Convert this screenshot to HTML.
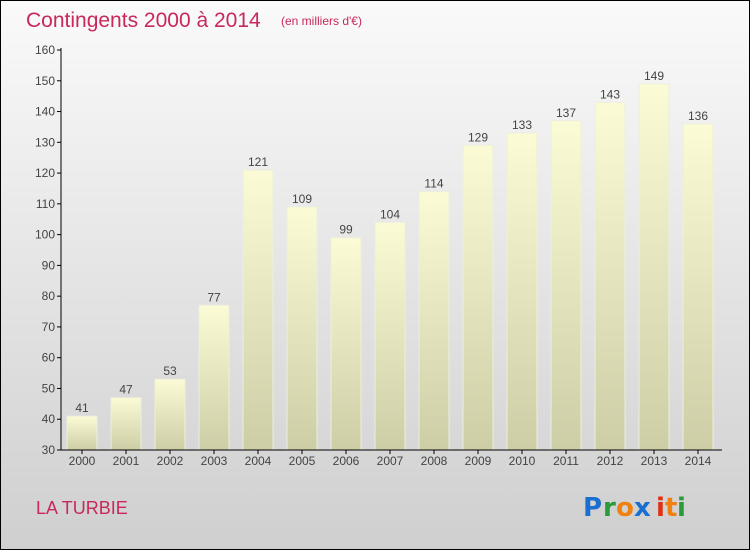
<!DOCTYPE html>
<html><head><meta charset="utf-8"><style>
html,body{margin:0;padding:0}
body{width:750px;height:550px;overflow:hidden;font-family:"Liberation Sans",sans-serif}
</style></head><body>
<svg width="750" height="550" xmlns="http://www.w3.org/2000/svg">
<defs>
<linearGradient id="bg" x1="0" y1="0" x2="0" y2="1"><stop offset="0" stop-color="#fafafa"/><stop offset="1" stop-color="#cfcfcf"/></linearGradient>
<linearGradient id="bar" x1="0" y1="0" x2="0" y2="1"><stop offset="0" stop-color="#fbfbd6"/><stop offset="1" stop-color="#cdcda6"/></linearGradient>
</defs>
<rect x="0.5" y="0.5" width="749" height="549" fill="url(#bg)" stroke="#000"/>
<text x="26" y="27" font-size="21" fill="#c8285a">Contingents 2000 à 2014</text>
<text x="281" y="25" font-size="12" fill="#c8285a">(en milliers d'€)</text>
<g id="plot"></g>
<text x="36" y="514" font-size="18" fill="#c8285a">LA TURBIE</text>
<g font-size="26" font-family="'DejaVu Sans',sans-serif" font-weight="bold">
<text x="583" y="516" fill="#1a6fd0">P</text><text x="603" y="516" fill="#2a9a3a">r</text><text x="616" y="516" fill="#f08010">o</text><text x="634" y="516" fill="#1a6fd0">x</text><text x="656" y="516" fill="#e03010">i</text><text x="665" y="516" fill="#f08010">t</text><text x="677" y="516" fill="#2a9a3a">i</text>
</g>
</svg>
<script>
const categories=["2000","2001","2002","2003","2004","2005","2006","2007","2008","2009","2010","2011","2012","2013","2014"];
const values=[41,47,53,77,121,109,99,104,114,129,133,137,143,149,136];
const yTicks=[30,40,50,60,70,80,90,100,110,120,130,140,150,160];
const NS="http://www.w3.org/2000/svg";
const g=document.getElementById('plot');
const y0=450,y1=50,vmin=30,vmax=160;
function yS(v){return y0-(v-vmin)/(vmax-vmin)*(y0-y1);}
function xS(i){return 82+i*44;}
function mk(t,a,p){const e=document.createElementNS(NS,t);for(const k in a)e.setAttribute(k,a[k]);(p||g).appendChild(e);return e;}
yTicks.forEach(v=>{
 const y=yS(v);
 const tk=mk('line',{x1:57,x2:61,y1:y,y2:y,stroke:'#000'});
 
 
 const t=mk('text',{x:55,y:y+4,'text-anchor':'end','font-size':12,fill:'#444'});
 t.textContent=v;
 
 
});
values.forEach((v,i)=>{
 const x=xS(i);
 const b=mk('rect',{x:x-15,y:yS(v),width:30,height:y0-yS(v),fill:'url(#bar)',stroke:'#eeeedd','stroke-width':1});
 
 
 const l=mk('text',{x:x,y:yS(v)-4,'text-anchor':'middle','font-size':12,fill:'#444'});
 l.textContent=v;
 
 
 const c=mk('text',{x:x,y:465,'text-anchor':'middle','font-size':12,fill:'#444'});
 c.textContent=categories[i];
 
 
 const tk=mk('line',{x1:x,x2:x,y1:450,y2:454,stroke:'#000'});
 
 
});
const ya=mk('line',{x1:61,x2:61,y1:48,y2:450,stroke:'#000'});


const xa=mk('line',{x1:61,x2:722,y1:450,y2:450,stroke:'#000'});


</script>
</body></html>
